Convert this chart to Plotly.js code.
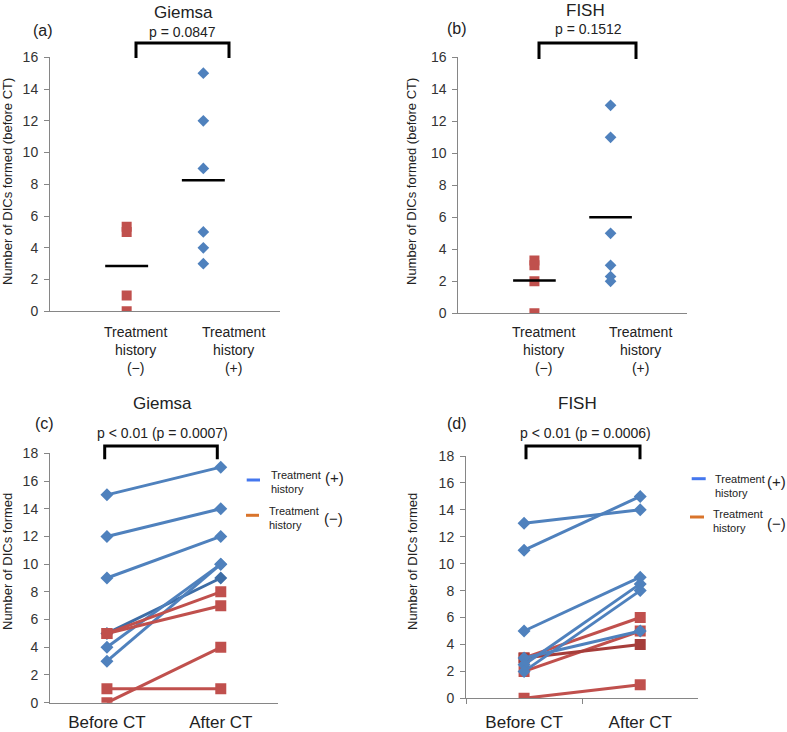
<!DOCTYPE html>
<html>
<head>
<meta charset="utf-8">
<script src="https://cdn.plot.ly/plotly-3.0.1.min.js"></script>
<style>
  html, body { margin: 0; padding: 0; background: #fff; }
  #chart { width: 787px; height: 732px; }
</style>
</head>
<body>
<div id="chart"></div>
<script>
// (a)/(b): DICs before CT, by treatment history
const giemsaNeg = [5.33, 5, 1, 0];
const giemsaPos = [15, 12, 9, 5, 4, 3];
const giemsaMeans = [2.85, 8.25];
const fishNeg = [3.3, 3, 2, 0];
const fishPos = [13, 11, 5, 3, 2.3, 2];
const fishMeans = [2.05, 6.0];

// (c)/(d): before vs after CT, one line per patient
const phases = ["Before CT", "After CT"];
const giemsaBeforePos = [15, 12, 9, 5, 4, 3];
const giemsaAfterPos = [17, 14, 12, 9, 10, 10];
const giemsaBeforeNeg = [5, 5, 1, 0];
const giemsaAfterNeg = [8, 7, 1, 4];
const fishBeforePos = [13, 11, 5, 3, 2.5, 2];
const fishAfterPos = [14, 15, 9, 5, 8.5, 8];
const fishBeforeNeg = [3, 2, 3, 0];
const fishAfterNeg = [6, 5, 4, 1];

const BLUE = "#4F81BD";
const BLUE_DARK = "#3D6DA6";
const RED = "#C0504D";
const RED_DARK = "#A63D3A";
const FONT = "Liberation Sans, Arial, sans-serif";

const W = 787, H = 732;
const px = x => x / W;
const py = y => 1 - y / H;

const traces = [];

// dot plots: group index 1 = history (-), 2 = history (+)
function dotPlot(neg, pos, means, xa, ya) {
    traces.push({
        x: neg.map(() => 1), y: neg, xaxis: xa, yaxis: ya,
        type: "scatter", mode: "markers",
        marker: { symbol: "square", size: 10, color: RED, line: { width: 0 } }
    });
    traces.push({
        x: pos.map(() => 2), y: pos, xaxis: xa, yaxis: ya,
        type: "scatter", mode: "markers",
        marker: { symbol: "diamond", size: 9, color: BLUE, line: { width: 0 } }
    });
    means.forEach((m, i) => {
        traces.push({
            x: [i + 1 - 0.28, i + 1 + 0.28], y: [m, m], xaxis: xa, yaxis: ya,
            type: "scatter", mode: "lines",
            line: { color: "#000", width: 2.5 }
        });
    });
}

function pairLines(before, after, symbol, color, darkIdx, xa, ya) {
    before.forEach((b, i) => {
        const c = i === darkIdx ? (color === BLUE ? BLUE_DARK : RED_DARK) : color;
        traces.push({
            x: phases, y: [b, after[i]], xaxis: xa, yaxis: ya,
            type: "scatter", mode: "lines+markers",
            line: { color: c, width: 3 },
            marker: { symbol: symbol, size: symbol === "square" ? 11 : 10, color: c, line: { width: 0 } }
        });
    });
}

dotPlot(giemsaNeg, giemsaPos, giemsaMeans, "x", "y");
dotPlot(fishNeg, fishPos, fishMeans, "x2", "y2");
// (c): red drawn over blue; (d): blue drawn over red
pairLines(giemsaBeforePos, giemsaAfterPos, "diamond", BLUE, 3, "x3", "y3");
pairLines(giemsaBeforeNeg, giemsaAfterNeg, "square", RED, -1, "x3", "y3");
pairLines(fishBeforeNeg, fishAfterNeg, "square", RED, 2, "x4", "y4");
pairLines(fishBeforePos, fishAfterPos, "diamond", BLUE, -1, "x4", "y4");

function yAxis(domain, max, anchor) {
    return {
        domain: domain, range: [0, max], dtick: 2, anchor: anchor,
        showline: true, linecolor: "#868686", linewidth: 1,
        ticks: "outside", ticklen: 5, tickcolor: "#868686",
        ticklabelstandoff: 3,
        showgrid: false, zeroline: false,
        tickfont: { size: 14, color: "#333", family: FONT }
    };
}

function text(t, x, y, size, extra) {
    return Object.assign({
        text: t, x: px(x), y: py(y), xref: "paper", yref: "paper",
        showarrow: false, xanchor: "center", yanchor: "middle",
        font: { size: size, color: "#222", family: FONT }
    }, extra || {});
}

function yTitle(t, x, y) {
    return text(t, x, y, 13, { textangle: -90 });
}

function bracket(x0, x1, yTop, yBot) {
    return {
        type: "path", xref: "paper", yref: "paper",
        path: `M ${px(x0)},${py(yBot)} L ${px(x0)},${py(yTop)} L ${px(x1)},${py(yTop)} L ${px(x1)},${py(yBot)}`,
        line: { color: "#000", width: 3 }
    };
}

function legendSeg(x0, x1, y, color) {
    return {
        type: "line", xref: "paper", yref: "paper",
        x0: px(x0), x1: px(x1), y0: py(y), y1: py(y),
        line: { color: color, width: 3 }
    };
}

const layout = {
    width: W, height: H,
    margin: { l: 0, r: 0, t: 0, b: 0 },
    paper_bgcolor: "#fff", plot_bgcolor: "rgba(0,0,0,0)",
    showlegend: false,
    font: { family: FONT, color: "#222" },

    xaxis: {
        domain: [px(50), px(280)], range: [0, 3], anchor: "y",
        showline: true, linecolor: "#868686", showticklabels: false,
        ticks: "", showgrid: false, zeroline: false
    },
    yaxis: yAxis([py(311.3), py(57.3)], 16, "x"),

    xaxis2: {
        domain: [px(458.3), px(686.7)], range: [0, 3], anchor: "y2",
        showline: true, linecolor: "#868686", showticklabels: false,
        ticks: "", showgrid: false, zeroline: false
    },
    yaxis2: yAxis([py(313.3), py(57.3)], 16, "x2"),

    xaxis3: {
        domain: [px(50), px(277.7)], type: "category", range: [-0.5, 1.5], anchor: "y3",
        showline: true, linecolor: "#868686", ticks: "", showgrid: false, zeroline: false,
        ticklabelstandoff: 4,
        tickfont: { size: 17, color: "#222", family: FONT }
    },
    yaxis3: yAxis([py(702.7), py(453.3)], 18, "x3"),

    xaxis4: {
        domain: [px(466), px(698.3)], type: "category", range: [-0.5, 1.5], anchor: "y4",
        showline: true, linecolor: "#868686", ticks: "outside", tickson: "boundaries",
        ticklen: 5, tickcolor: "#868686", showgrid: false, zeroline: false,
        ticklabelstandoff: 8,
        tickfont: { size: 17, color: "#222", family: FONT }
    },
    yaxis4: yAxis([py(698.3), py(456)], 18, "x4"),

    shapes: [
        bracket(136, 229, 43, 58),
        bracket(539, 636, 43, 59),
        bracket(104.7, 217.3, 446, 459.3),
        bracket(526, 640, 446, 459.3),
        legendSeg(246.7, 260, 480, "#4477EE"),
        legendSeg(246, 259, 515.3, "#D9742B"),
        legendSeg(691.7, 705.7, 478.7, "#4477EE"),
        legendSeg(690, 704, 517, "#D9742B")
    ],

    annotations: [
        // (a)
        text("Giemsa", 183, 12, 17),
        text("(a)", 43, 31, 16),
        text("p = 0.0847", 182, 32, 14),
        text("Treatment<br>history<br>(−)", 135, 350, 14),
        text("Treatment<br>history<br>(+)", 233, 350, 14),
        yTitle("Number of DICs formed (before CT)", 8, 182),
        // (b)
        text("FISH", 585, 11, 17),
        text("(b)", 457, 28, 16),
        text("p = 0.1512", 588, 29, 14),
        text("Treatment<br>history<br>(−)", 543, 350, 14),
        text("Treatment<br>history<br>(+)", 640, 350, 14),
        yTitle("Number of DICs formed (before CT)", 412, 182),
        // (c)
        text("Giemsa", 162, 403, 17),
        text("(c)", 44, 423, 16),
        text("p < 0.01 (p = 0.0007)", 162, 433, 14),
        yTitle("Number of DICs formed", 7, 562),
        text("Treatment<br>history", 269, 482, 11, { xanchor: "left", align: "left" }),
        text("(+)", 334, 478, 15),
        text("Treatment<br>history", 266.7, 518, 11, { xanchor: "left", align: "left" }),
        text("(−)", 333, 518, 15),
        // (d)
        text("FISH", 577, 404, 17),
        text("(d)", 457, 423, 16),
        text("p < 0.01 (p = 0.0006)", 585, 433, 14),
        yTitle("Number of DICs formed", 412, 562),
        text("Treatment<br>history", 712.7, 486, 11, { xanchor: "left", align: "left" }),
        text("(+)", 776, 482, 15),
        text("Treatment<br>history", 711, 521, 11, { xanchor: "left", align: "left" }),
        text("(−)", 776, 523, 15)
    ]
};

const config = { displayModeBar: false, staticPlot: true };

Plotly.newPlot("chart", traces, layout, config);
</script>
</body>
</html>
